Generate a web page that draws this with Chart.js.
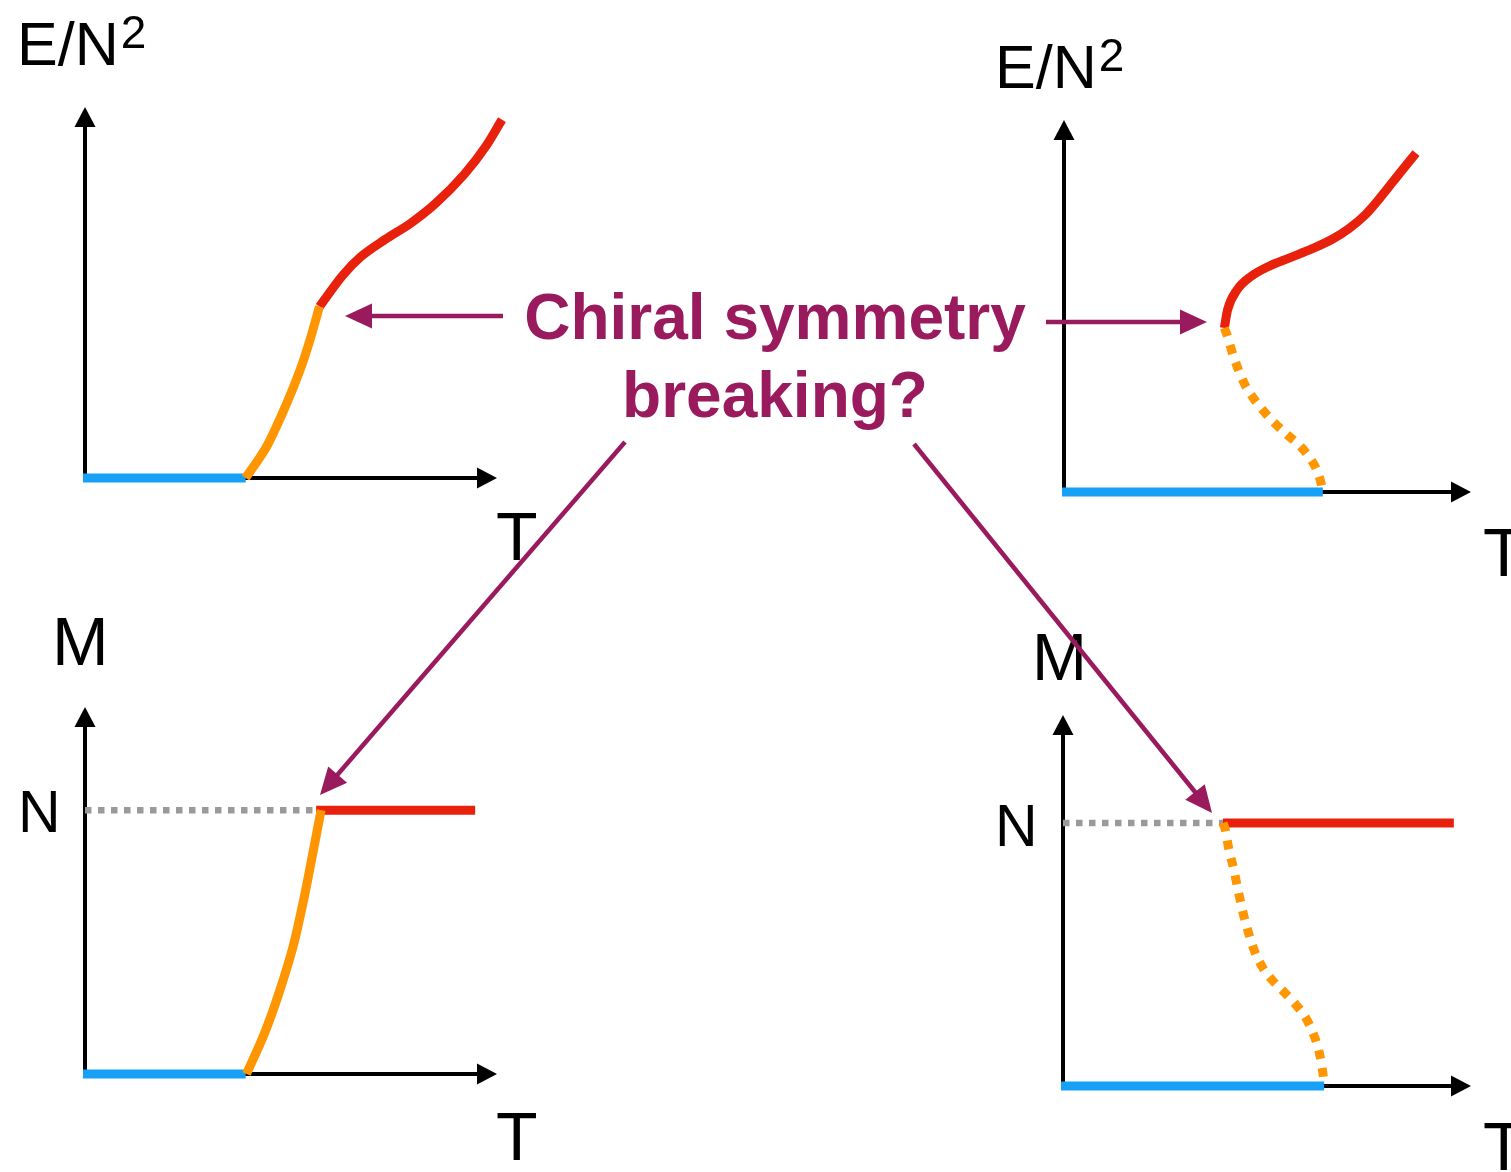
<!DOCTYPE html>
<html>
<head>
<meta charset="utf-8">
<title>Chiral symmetry breaking?</title>
<script src="https://cdn.jsdelivr.net/npm/chart.js@4.4.0/dist/chart.umd.min.js"></script>
<style>
  html, body { margin: 0; padding: 0; background: #fff; overflow: hidden; }
  #wrap { position: relative; width: 1511px; height: 1172px; }
</style>
</head>
<body>
<div id="wrap"><canvas id="chart" width="1511" height="1172"></canvas></div>
<script>
// ---- data (each panel in its own units: T and E/N^2 or M, axis tip = 1) ----

// A: top-left, E/N^2 vs T, smooth crossover
const A_BLUE_T = [-0.005, 0.390];
const A_BLUE_E = [0, 0];
const A_ORANGE_T = [0.390, 0.441, 0.490, 0.522, 0.546, 0.569];
const A_ORANGE_E = [0, 0.085, 0.202, 0.291, 0.372, 0.462];
const A_RED_T = [0.569, 0.626, 0.669, 0.730, 0.791, 0.851, 0.921, 0.973, 1.012];
const A_RED_E = [0.462, 0.547, 0.596, 0.644, 0.687, 0.740, 0.819, 0.894, 0.966];

// B: top-right, E/N^2 vs T, first-order (unstable branch dotted)
const B_BLUE_T = [-0.005, 0.636];
const B_BLUE_E = [0, 0];
const B_ORANGE_T = [0.394, 0.400, 0.416, 0.442, 0.465, 0.490, 0.517, 0.547, 0.578, 0.603, 0.621, 0.632, 0.636];
const B_ORANGE_E = [0.441, 0.424, 0.366, 0.294, 0.253, 0.218, 0.186, 0.155, 0.126, 0.093, 0.059, 0.022, 0];
const B_RED_T = [0.394, 0.402, 0.425, 0.460, 0.500, 0.556, 0.610, 0.660, 0.700, 0.740, 0.782, 0.824, 0.865];
const B_RED_E = [0.441, 0.490, 0.543, 0.580, 0.605, 0.630, 0.654, 0.680, 0.708, 0.745, 0.798, 0.856, 0.911];

// C: bottom-left, M vs T
const C_N_LEVEL = 0.719;
const C_GRAY_T = [0, 0.561];
const C_BLUE_T = [-0.005, 0.390];
const C_BLUE_M = [0, 0];
const C_ORANGE_T = [0.392, 0.435, 0.470, 0.505, 0.531, 0.552, 0.569, 0.573];
const C_ORANGE_M = [0, 0.109, 0.218, 0.347, 0.476, 0.596, 0.695, 0.719];
const C_RED_T = [0.561, 0.947];

// D: bottom-right, M vs T
const D_N_LEVEL = 0.709;
const D_GRAY_T = [0, 0.392];
const D_BLUE_T = [-0.005, 0.640];
const D_BLUE_M = [0, 0];
const D_ORANGE_T = [0.392, 0.398, 0.406, 0.419, 0.430, 0.442, 0.455, 0.470, 0.490, 0.514, 0.542, 0.570, 0.595, 0.613, 0.626, 0.634, 0.639, 0.640];
const D_ORANGE_M = [0.709, 0.690, 0.641, 0.582, 0.523, 0.464, 0.412, 0.362, 0.318, 0.284, 0.253, 0.220, 0.184, 0.142, 0.100, 0.056, 0.015, 0];
const D_RED_T = [0.392, 0.958];

// ---- look ----
const W = 1511, H = 1172;
const RED = '#E8210C';
const ORANGE = '#FF9500';
const BLUE = '#16A1F7';
const GRAY = '#9A9A9A';
const PURPLE = '#9A1A5E';
const FONT = '"Liberation Sans", Arial, Helvetica, sans-serif';
const LW = 9;

// where each panel's origin sits and how long its axes are (px)
const PANELS = {
  A: { ox: 85, oy: 478, w: 412, h: 371 },
  B: { ox: 1064, oy: 492, w: 407, h: 372 },
  C: { ox: 85, oy: 1074, w: 412, h: 367 },
  D: { ox: 1063, oy: 1086, w: 408, h: 371 },
};

const LABELS = [
  { text: 'E/N', sup: '2', x: 17, y: 65, size: 61 },
  { text: 'E/N', sup: '2', x: 995, y: 88, size: 61 },
  { text: 'T', x: 496, y: 560, size: 68 },
  { text: 'T', x: 1483, y: 576, size: 68 },
  { text: 'M', x: 52, y: 665, size: 68 },
  { text: 'N', x: 18, y: 832, size: 59 },
  { text: 'T', x: 496, y: 1160, size: 68 },
  { text: 'M', x: 1032, y: 680, size: 66 },
  { text: 'N', x: 995, y: 846, size: 59 },
  { text: 'T', x: 1483, y: 1170, size: 68 },
];

const ARROWS = [
  [503, 316, 345, 316],
  [1046, 322, 1207, 322],
  [625, 442, 320, 795],
  [914, 444, 1212, 813],
];

function pts(xs, ys) {
  return xs.map((x, i) => ({ x: x, y: ys[i] }));
}
function level(xs, v) {
  return xs.map(x => ({ x: x, y: v }));
}
function curve(data, panel, color, width, dash, smooth) {
  const ds = {
    data: data,
    xAxisID: 'x' + panel,
    yAxisID: 'y' + panel,
    showLine: true,
    fill: false,
    borderColor: color,
    borderWidth: width,
    borderDash: dash || [],
    borderCapStyle: 'butt',
    borderJoinStyle: 'round',
    pointRadius: 0,
  };
  // steep branches look better with a plain bezier, the rest with monotone
  if (smooth) ds.tension = smooth;
  else ds.cubicInterpolationMode = 'monotone';
  return ds;
}

// one hidden scale pair per panel, stretched so 0..1 lands on the drawn axes
const scales = {};
Object.keys(PANELS).forEach(k => {
  const p = PANELS[k];
  const xmin = -p.ox / p.w;
  const ymin = -(H - p.oy) / p.h;
  scales['x' + k] = { type: 'linear', display: false, min: xmin, max: xmin + W / p.w };
  scales['y' + k] = { type: 'linear', display: false, min: ymin, max: ymin + H / p.h };
});

function arrow(ctx, x1, y1, x2, y2, color, width, headLen, headHalf) {
  const a = Math.atan2(y2 - y1, x2 - x1);
  const bx = x2 - headLen * Math.cos(a), by = y2 - headLen * Math.sin(a);
  ctx.save();
  ctx.strokeStyle = color;
  ctx.fillStyle = color;
  ctx.lineWidth = width;
  ctx.lineCap = 'butt';
  ctx.beginPath();
  ctx.moveTo(x1, y1);
  ctx.lineTo(bx + Math.cos(a), by + Math.sin(a));
  ctx.stroke();
  ctx.beginPath();
  ctx.moveTo(x2, y2);
  ctx.lineTo(bx - headHalf * Math.sin(a), by + headHalf * Math.cos(a));
  ctx.lineTo(bx + headHalf * Math.sin(a), by - headHalf * Math.cos(a));
  ctx.closePath();
  ctx.fill();
  ctx.restore();
}

const axesPlugin = {
  id: 'panelAxes',
  beforeDatasetsDraw(chart) {
    const ctx = chart.ctx;
    Object.keys(PANELS).forEach(k => {
      const xs = chart.scales['x' + k], ys = chart.scales['y' + k];
      const ox = xs.getPixelForValue(0), oy = ys.getPixelForValue(0);
      const tx = xs.getPixelForValue(1), ty = ys.getPixelForValue(1);
      arrow(ctx, ox - 2, oy, tx, oy, '#000', 4, 20, 10.5);
      arrow(ctx, ox, oy + 2, ox, ty, '#000', 4, 20, 10.5);
    });
  },
  afterDatasetsDraw(chart) {
    const ctx = chart.ctx;
    ctx.save();
    ctx.fillStyle = '#000';
    ctx.textBaseline = 'alphabetic';
    ctx.textAlign = 'left';
    LABELS.forEach(l => {
      ctx.font = l.size + 'px ' + FONT;
      ctx.fillText(l.text, l.x, l.y);
      if (l.sup) {
        const w = ctx.measureText(l.text).width;
        ctx.font = Math.round(l.size * 0.76) + 'px ' + FONT;
        ctx.fillText(l.sup, l.x + w + 2, l.y - l.size * 0.28);
      }
    });

    ctx.fillStyle = PURPLE;
    ctx.textAlign = 'center';
    ctx.font = 'bold 64px ' + FONT;
    ctx.fillText('Chiral symmetry', 775, 339);
    ctx.fillText('breaking?', 775, 417);
    ctx.restore();

    ARROWS.forEach(a => arrow(ctx, a[0], a[1], a[2], a[3], PURPLE, 4.5, 27, 12.5));
  },
};

new Chart(document.getElementById('chart'), {
  type: 'scatter',
  data: {
    datasets: [
      // first listed is drawn on top
      curve(pts(A_ORANGE_T, A_ORANGE_E), 'A', ORANGE, LW, null, 0.3),
      curve(pts(A_RED_T, A_RED_E), 'A', RED, LW),
      curve(pts(A_BLUE_T, A_BLUE_E), 'A', BLUE, LW),

      curve(pts(B_ORANGE_T, B_ORANGE_E), 'B', ORANGE, LW, [9, 9]),
      curve(pts(B_RED_T, B_RED_E), 'B', RED, LW),
      curve(pts(B_BLUE_T, B_BLUE_E), 'B', BLUE, LW),

      curve(pts(C_ORANGE_T, C_ORANGE_M), 'C', ORANGE, LW, null, 0.3),
      curve(level(C_RED_T, C_N_LEVEL), 'C', RED, LW),
      curve(level(C_GRAY_T, C_N_LEVEL), 'C', GRAY, 6.5, [6.5, 6.5]),
      curve(pts(C_BLUE_T, C_BLUE_M), 'C', BLUE, LW),

      curve(pts(D_ORANGE_T, D_ORANGE_M), 'D', ORANGE, LW, [9, 9]),
      curve(level(D_RED_T, D_N_LEVEL), 'D', RED, LW),
      curve(level(D_GRAY_T, D_N_LEVEL), 'D', GRAY, 6.5, [6.5, 6.5]),
      curve(pts(D_BLUE_T, D_BLUE_M), 'D', BLUE, LW),
    ],
  },
  options: {
    responsive: false,
    animation: false,
    events: [],
    layout: { padding: 0 },
    plugins: { legend: { display: false }, tooltip: { enabled: false }, title: { display: false } },
    scales: scales,
  },
  plugins: [axesPlugin],
});
</script>
</body>
</html>
